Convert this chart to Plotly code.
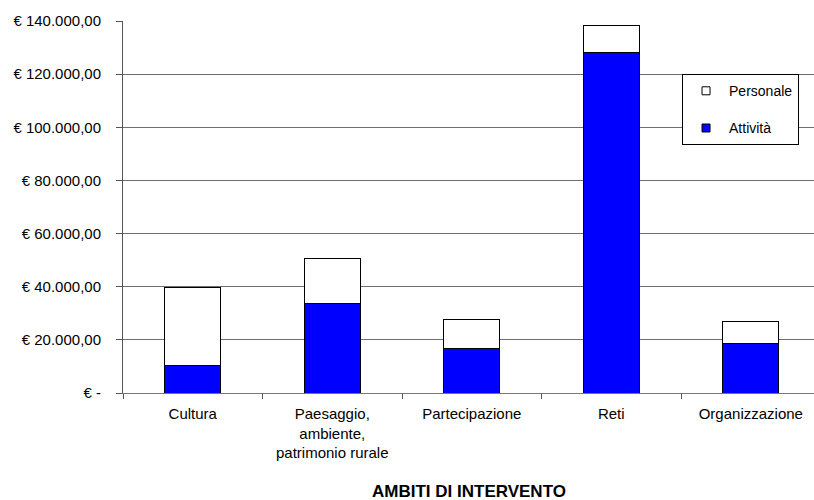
import plotly.graph_objects as go

# Ambiti di intervento: costi di attività e di personale (euro)
categorie = ["Cultura", "Paesaggio,<br>ambiente,<br>patrimonio rurale", "Partecipazione", "Reti", "Organizzazione"]
attivita = [10400, 33700, 16600, 128200, 18600]
personale = [29200, 17000, 11200, 10100, 8400]

tick_valori = [0, 20000, 40000, 60000, 80000, 100000, 120000, 140000]
tick_testi = ["€ -", "€ 20.000,00", "€ 40.000,00", "€ 60.000,00", "€ 80.000,00",
              "€ 100.000,00", "€ 120.000,00", "€ 140.000,00"]

FONT = "Liberation Sans, Arial, sans-serif"
BLU = "#0000FF"

fig = go.Figure()
fig.add_trace(go.Bar(x=categorie, y=attivita, name="Attività", marker=dict(color=BLU, line=dict(color="black", width=1)),
                     width=0.4, showlegend=False))
fig.add_trace(go.Bar(x=categorie, y=personale, name="Personale", marker=dict(color="white", line=dict(color="black", width=1)),
                     width=0.4, showlegend=False))

# legend entries with small square keys
fig.add_trace(go.Scatter(x=[None], y=[None], mode="markers", name="Personale", legendgroup="p",
                         marker=dict(symbol="square", size=8, color="white", line=dict(color="black", width=1))))
fig.add_trace(go.Scatter(x=[None], y=[None], mode="markers", name="Attività", legendgroup="a",
                         marker=dict(symbol="square", size=8, color=BLU, line=dict(color="black", width=1))))

fig.update_layout(
    width=814, height=500,
    margin=dict(l=123, r=0, t=21, b=107),
    barmode="stack",
    plot_bgcolor="white", paper_bgcolor="white",
    font=dict(family=FONT, size=15, color="black"),
    legend=dict(x=0.809, y=0.857, xanchor="left", yanchor="top",
                bgcolor="white", bordercolor="black", borderwidth=1,
                font=dict(size=14), traceorder="grouped", tracegroupgap=16,
                itemwidth=36),
    annotations=[dict(text="<b>AMBITI DI INTERVENTO</b>", x=0.5, y=-0.2645, xref="paper", yref="paper",
                      xanchor="center", yanchor="middle", showarrow=False, font=dict(size=17))],
)
fig.update_xaxes(type="category", range=[-0.5, 4.453], showline=True, linecolor="#777777", linewidth=1,
                 ticks="outside", tickson="boundaries", ticklen=5, tickcolor="#555555",
                 showgrid=False, ticklabelstandoff=7)
fig.update_yaxes(range=[0, 140000], tickvals=tick_valori, ticktext=tick_testi,
                 showgrid=True, gridcolor="#6e6e6e", gridwidth=1, zeroline=False,
                 showline=True, linecolor="#555555", linewidth=1,
                 ticks="outside", ticklen=6, tickcolor="#555555", ticklabelstandoff=12)

fig.write_html("out.html")
